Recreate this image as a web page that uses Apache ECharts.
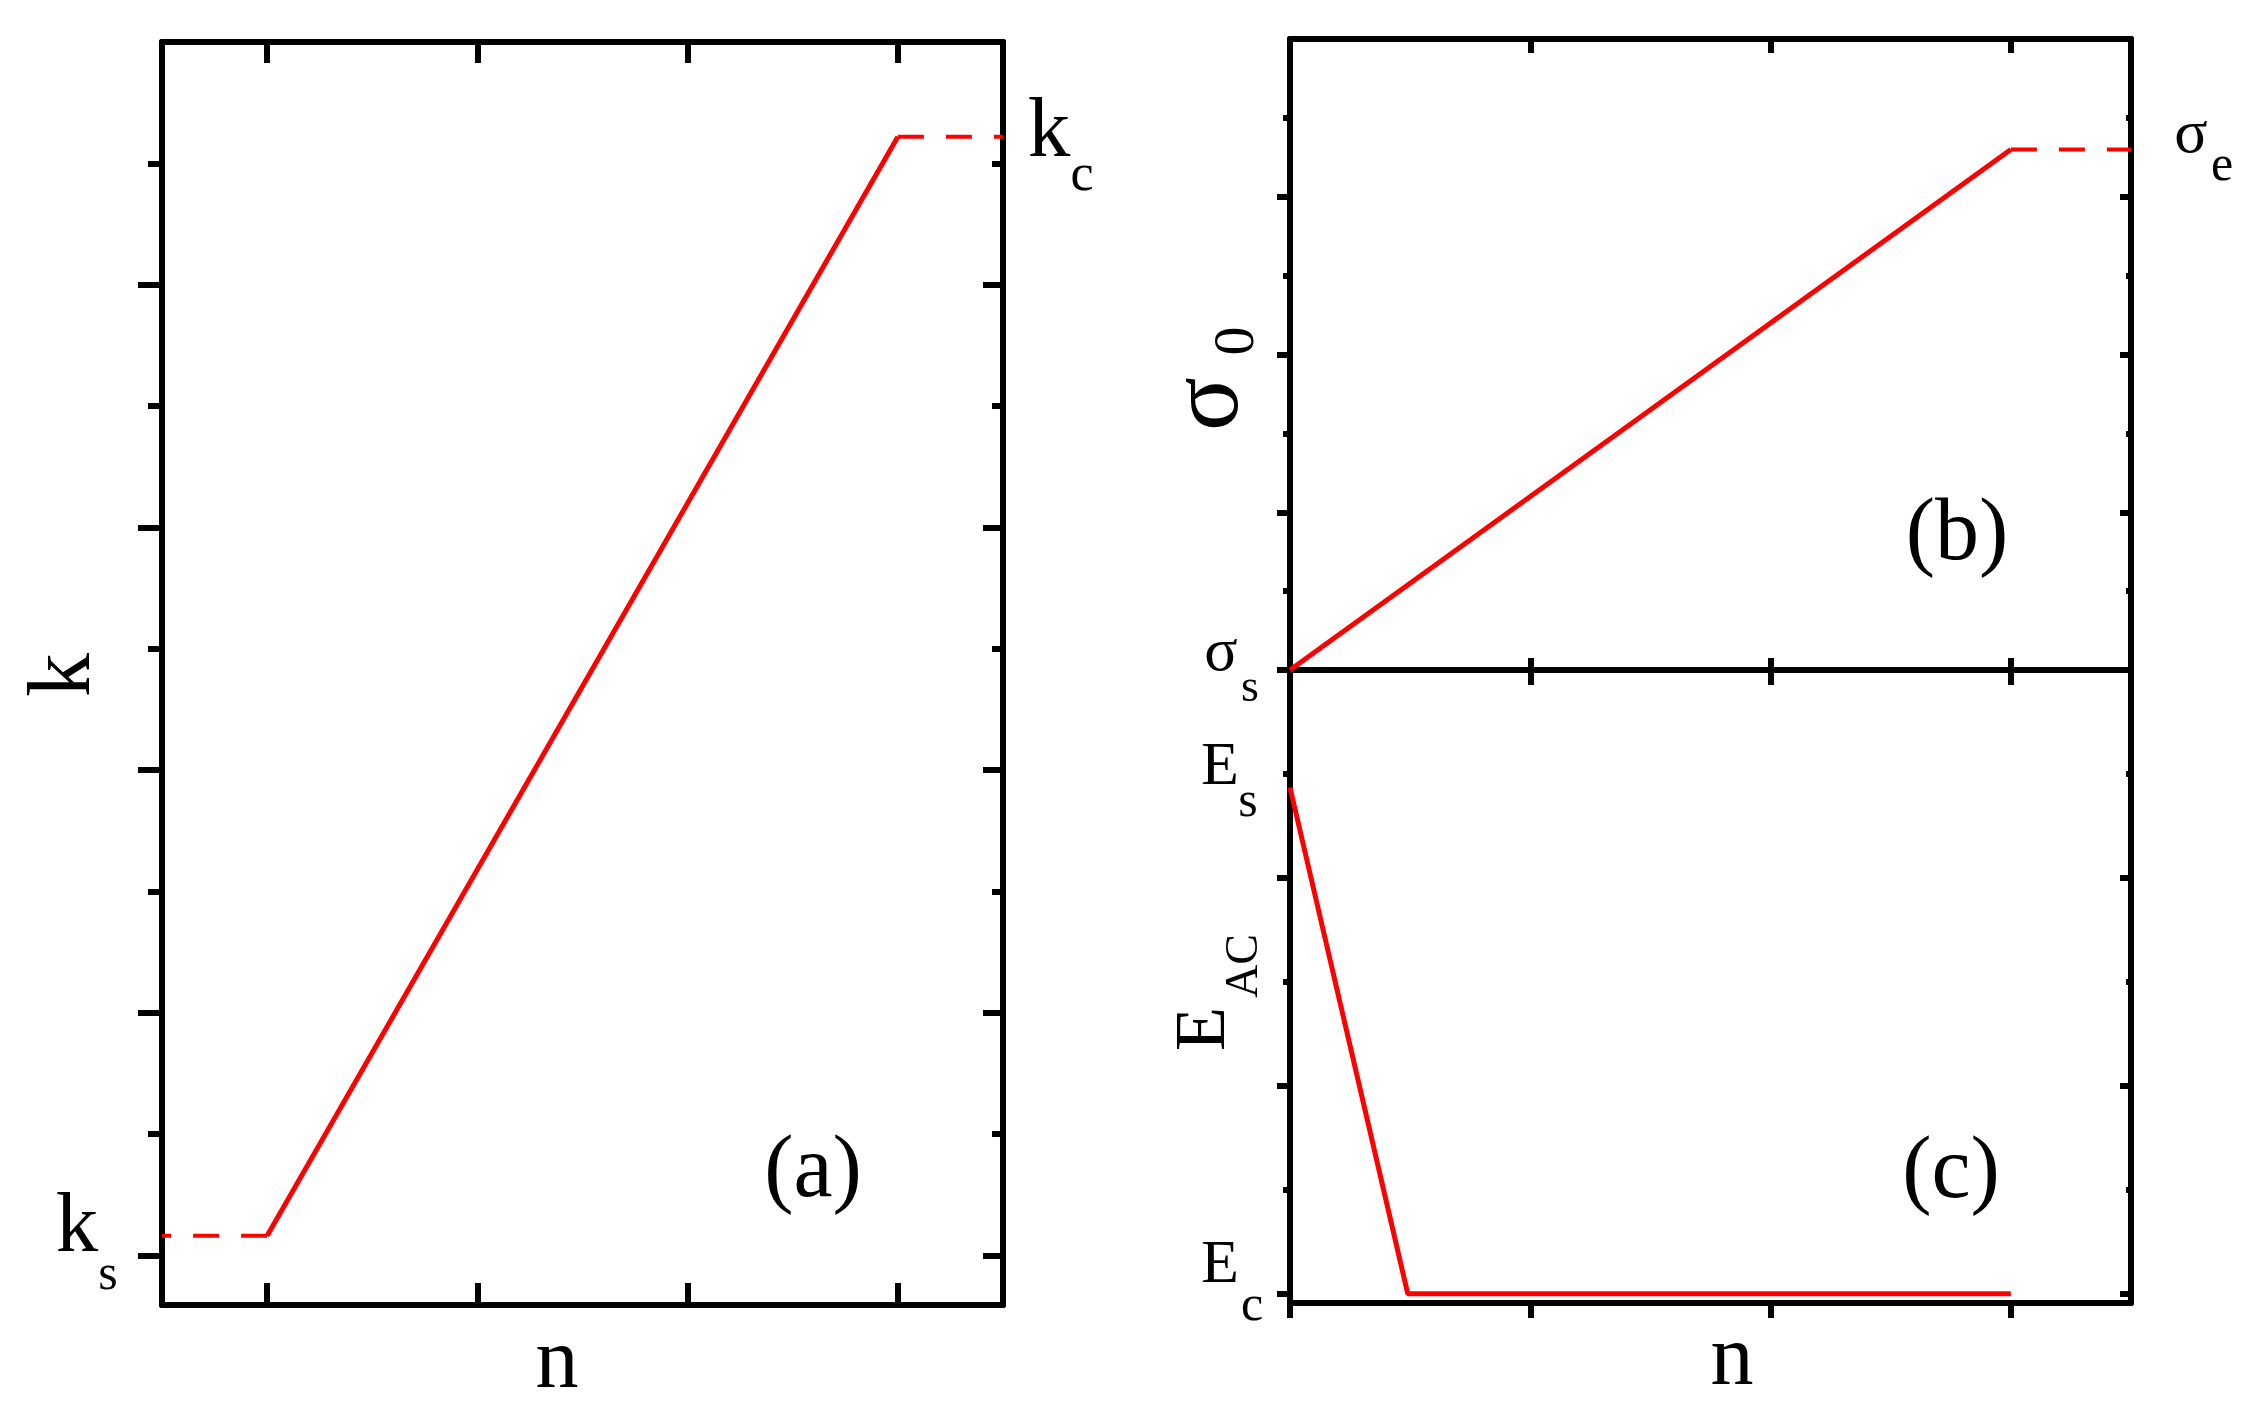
<!DOCTYPE html>
<html><head><meta charset="utf-8">
<script src="https://cdn.jsdelivr.net/npm/echarts@6/dist/echarts.min.js"></script>
<style>html,body{margin:0;padding:0;background:#fff}#c{width:2257px;height:1407px}</style>
</head><body><div id="c"></div>
<script>
// ---- Panel (a): k vs n ----
const nA = [0, 3];
const kA = [0.16, 9.22];
const nADashStart = [0, -0.5];
const kADashStart = [0.16, 0.16];
const nADashEnd = [3, 3.5];
const kADashEnd = [9.22, 9.22];
// ---- Panel (b): sigma_0 vs n ----
const nB = [0, 3];
const sigmaB = [0, 6.6];
const nBDash = [3, 3.5];
const sigmaBDash = [6.6, 6.6];
// ---- Panel (c): E_AC vs n ----
const nC = [0, 0.49, 3];
const eC = [4.87, 0, 0];
// ---- tick positions ----
const xTicksA = [0, 1, 2, 3];
const xTicksBC = [1, 2, 3];
const xTicksCBottom = [0, 1, 2, 3];
const yMajorA = [0, 2, 4, 6, 8];
const yMinorA = [1, 3, 5, 7, 9];
const yMajorB = [0, 2, 4, 6];
const yMinorB = [1, 3, 5, 7];
const yMajorC = [0, 2, 4];
const yMinorC = [1, 3, 5];

const zip = (xs, ys) => xs.map((x, i) => [x, ys[i]]);
const RED = '#ff0000';
const FONT = '"Liberation Serif", "Times New Roman", serif';
const LW = 6;

function ax(grid, pos, min, max, ticks, inside, len, showLine = true) {
  return {
    type: 'value', gridIndex: grid, position: pos, min, max,
    axisLine: { show: showLine, onZero: false, lineStyle: { color: '#000', width: LW } },
    axisTick: { show: true, customValues: ticks, inside, length: len, lineStyle: { color: '#000', width: LW } },
    axisLabel: { show: false }, splitLine: { show: false }
  };
}

const xAxis = [
  ax(0, 'bottom', -0.5, 3.5, xTicksA, true, 22),
  ax(0, 'top', -0.5, 3.5, xTicksA, true, 21),
  ax(1, 'bottom', 0, 3.5, xTicksBC, true, 12),
  ax(1, 'top', 0, 3.5, xTicksBC, true, 14),
  ax(2, 'bottom', 0, 3.5, xTicksCBottom, false, 15),
  ax(2, 'top', 0, 3.5, xTicksBC, true, 15)
];
const yAxis = [
  ax(0, 'left', -0.41, 10, yMajorA, false, 24),
  ax(0, 'left', -0.41, 10, yMinorA, false, 14, false),
  ax(0, 'right', -0.41, 10, yMajorA, true, 20),
  ax(0, 'right', -0.41, 10, yMinorA, true, 11, false),
  ax(1, 'left', 0, 8, yMajorB, false, 13),
  ax(1, 'left', 0, 8, yMinorB, false, 7, false),
  ax(1, 'right', 0, 8, yMajorB, true, 11),
  ax(1, 'right', 0, 8, yMinorB, true, 5, false),
  ax(2, 'left', -0.09, 6, yMajorC, false, 13),
  ax(2, 'left', -0.09, 6, yMinorC, false, 7, false),
  ax(2, 'right', -0.09, 6, yMajorC, true, 11),
  ax(2, 'right', -0.09, 6, yMinorC, true, 5, false)
];

function line(xi, yi, data, dashed) {
  return {
    type: 'line', xAxisIndex: xi, yAxisIndex: yi, data, showSymbol: false, symbol: 'none',
    silent: true, animation: false, z: 1, clip: false,
    lineStyle: { color: RED, width: dashed ? 4 : 5, type: dashed ? [26, 22] : 'solid' }
  };
}

const series = [
  line(0, 0, zip(nA, kA), false),
  line(0, 0, zip(nADashStart, kADashStart), true),
  line(0, 0, zip(nADashEnd, kADashEnd), true),
  line(2, 4, zip(nB, sigmaB), false),
  line(2, 4, zip(nBDash, sigmaBDash), true),
  line(4, 8, zip(nC, eC), false)
];

function t(text, x, y, size, rot) {
  return {
    type: 'text', x, y, rotation: rot || 0, silent: true, z: 100,
    style: { text, font: size + 'px ' + FONT, fill: '#000',
      align: 'center', verticalAlign: 'middle', textAlign: 'center', textVerticalAlign: 'middle' }
  };
}
const R = Math.PI / 2;
const graphic = [
  t('(a)', 813, 1173, 88), t('(b)', 1957, 536, 88), t('(c)', 1951, 1174, 88),
  t('n', 557, 1364, 86), t('n', 1732, 1361, 86),
  t('k', 66, 675, 88, R),
  t('σ', 1211, 404, 100, R), t('0', 1238, 341, 58, R),
  t('E', 1205, 1029, 72, R), t('AC', 1245, 966, 46, R),
  t('E', 1220, 768, 62), t('s', 1248, 803, 50),
  t('E', 1220, 1266, 62), t('c', 1252, 1307, 50),
  t('σ', 1221, 654, 62), t('s', 1250, 689, 46),
  t('σ', 2191, 136, 62), t('e', 2222, 167, 50),
  t('k', 77, 1229, 85), t('s', 108, 1276, 50),
  t('k', 1049, 134, 85), t('c', 1082, 176, 52)
];

const chart = echarts.init(document.getElementById('c'), null, { renderer: 'canvas' });
chart.setOption({
  backgroundColor: '#ffffff',
  animation: false,
  grid: [
    { left: 162, top: 42, width: 841, height: 1263 },
    { left: 1290, top: 39, width: 841, height: 631 },
    { left: 1290, top: 670, width: 841, height: 633 }
  ],
  xAxis, yAxis, series, graphic
});
</script></body></html>
